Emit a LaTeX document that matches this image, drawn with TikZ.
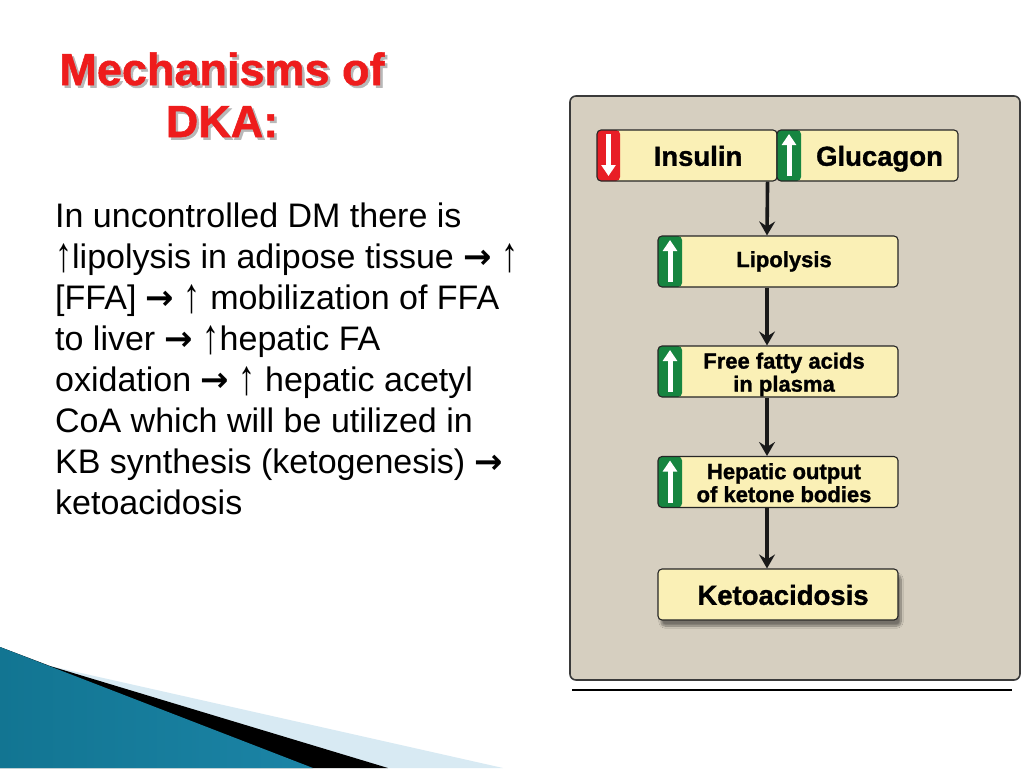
\documentclass[tikz,border=0pt]{standalone}
\usepackage{fontspec}
\setmainfont{Liberation Sans}
\newfontfamily\arrowfont{DejaVu Sans}
\newfontfamily\heavyfont[BoldFeatures={FakeBold=1.2}]{Liberation Sans}
\usetikzlibrary{arrows.meta,shadows.blur}
\definecolor{titlered}{HTML}{EE1C1C}
\definecolor{titleshade}{HTML}{B8B8B8}
\definecolor{boxfill}{HTML}{FAF0B6}
\definecolor{upgreen}{HTML}{168540}
\definecolor{downred}{HTML}{E81E26}
\definecolor{panelfill}{HTML}{D6CFC0}
\definecolor{panelline}{HTML}{3A3A3A}
\definecolor{swdark}{HTML}{127592}
\definecolor{swmid}{HTML}{52B5D8}
\definecolor{swright}{HTML}{1B84A6}
\definecolor{lightband}{HTML}{D8EAF3}
\newcommand{\rarr}{{\arrowfont\bfseries →}}
\newcommand{\uarr}{\raisebox{-3pt}{\scalebox{1.0}[1.45]{↑}}}
\newcommand{\boxlines}[3]{\raisebox{#2}[\height][\depth]{\hspace*{#1}\begin{tabular}{@{}c@{}}#3\end{tabular}}}
\newcommand{\shadowed}[1]{\leavevmode\rlap{\hspace{2.5pt}\raisebox{-2.5pt}{\color{titleshade}#1}}{\color{titlered}#1}}
\tikzset{
  body/.style={anchor=base west, inner sep=0pt, font=\fontsize{34}{41}\selectfont},
  titletext/.style={anchor=base, inner sep=0pt, font=\fontsize{45}{52}\selectfont\heavyfont\bfseries},
  fbox/.style={draw=black!85, line width=1.1pt, fill=boxfill, rounded corners=4pt,
    minimum height=51pt, inner sep=0pt, align=center},
  bigtext/.style={font=\fontsize{27.5}{29}\selectfont\heavyfont\bfseries},
  midtext/.style={font=\fontsize{22}{23}\selectfont\heavyfont\bfseries},
  stripearrow/.style={draw=white, line width=5pt, -{Triangle[width=14pt,length=11pt]}},
  upstripe/.style={path picture={
      \fill[upgreen] (path picture bounding box.south west) rectangle ([xshift=24pt]path picture bounding box.north west);
      \draw[stripearrow] ([xshift=12pt,yshift=5pt]path picture bounding box.south west) -- ([xshift=12pt,yshift=-4pt]path picture bounding box.north west);}},
  downstripe/.style={path picture={
      \fill[downred] (path picture bounding box.south west) rectangle ([xshift=23pt]path picture bounding box.north west);
      \draw[stripearrow] ([xshift=11.5pt,yshift=-4pt]path picture bounding box.north west) -- ([xshift=11.5pt,yshift=5pt]path picture bounding box.south west);}},
  conn/.style={draw=black!90, line width=3.6pt, -{Stealth[length=14pt,width=16pt,inset=5pt]}},
}
\begin{document}
\begin{tikzpicture}[x=1pt,y=-1pt]
\useasboundingbox (0,0) rectangle (1024,768);
\fill[white] (0,0) rectangle (1024,768);

% bottom-left swoosh
\fill[lightband] (0,647) -- (50,666) -- (503,768) -- (0,768) -- cycle;
\fill[black] (0,647) -- (50,666) -- (388,768) -- (0,768) -- cycle;
\shade[left color=swdark, middle color=swmid, right color=swright] (0,647) -- (313,768) -- (0,768) -- cycle;

% title
\node[titletext] (t1) at (222,85) {\shadowed{Mechanisms of}};
\node[titletext] (t2) at (222,137) {\shadowed{DKA:}};

% body text
\node[body] (l1) at (55,227) {In uncontrolled DM there is};
\node[body] (l2) at (55,268) {\uarr lipolysis in adipose tissue \rarr{} \uarr};
\node[body] (l3) at (55,309) {[FFA] \rarr{} \uarr{} mobilization of FFA};
\node[body] (l4) at (55,350) {to liver \rarr{} \uarr hepatic FA};
\node[body] (l5) at (55,391) {oxidation \rarr{} \uarr{} hepatic acetyl};
\node[body] (l6) at (55,432) {CoA which will be utilized in};
\node[body] (l7) at (55,473) {KB synthesis (ketogenesis) \rarr};
\node[body] (l8) at (55,514) {ketoacidosis};

% panel
\node[draw=panelline, line width=1.6pt, fill=panelfill, rounded corners=6pt,
      minimum width=450pt, minimum height=584pt, inner sep=0pt] (panel) at (795,388) {};
\draw[line width=2.6pt] (572,690) coordinate (ul) -- (1012,690) coordinate (ur);

% boxes
\node[fbox, downstripe, bigtext, minimum width=180pt] (ins) at (687,155.5) {\boxlines{22pt}{-4.5pt}{Insulin}};
\node[fbox, upstripe, bigtext, minimum width=181pt] (glu) at (867.5,155.5) {\boxlines{24pt}{-4.5pt}{Glucagon}};
\node[fbox, upstripe, midtext, minimum width=240pt] (lip) at (778,261.5) {\boxlines{12pt}{-1pt}{Lipolysis}};
\node[fbox, upstripe, midtext, minimum width=240pt] (ffa) at (778,371.5) {\boxlines{12pt}{-4pt}{Free fatty acids\\in plasma}};
\node[fbox, upstripe, midtext, minimum width=240pt] (hep) at (778,482) {\boxlines{12pt}{-4pt}{Hepatic output\\of ketone bodies}};
\node[fbox, bigtext, minimum width=240pt,
      blur shadow={shadow xshift=3pt, shadow yshift=-6pt, shadow blur steps=10, shadow opacity=45}] (keto) at (778,594.5) {\boxlines{10pt}{-4.5pt}{Ketoacidosis}};

% connectors
\draw[conn] ([xshift=-10pt]ins.south east) -- ([xshift=-11pt]lip.north);
\draw[conn] ([xshift=-11pt]lip.south) -- ([xshift=-11pt]ffa.north);
\draw[conn] ([xshift=-11pt]ffa.south) -- ([xshift=-11pt]hep.north);
\draw[conn] ([xshift=-11pt]hep.south) -- ([xshift=-11pt]keto.north);
\end{tikzpicture}
\end{document}
